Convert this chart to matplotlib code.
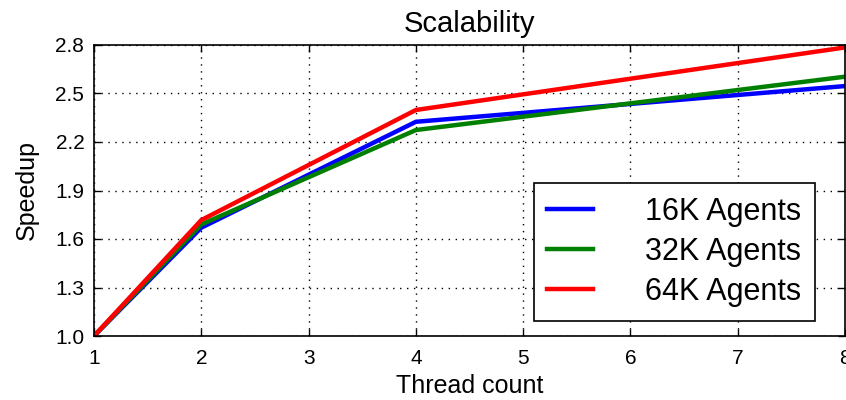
import matplotlib.pyplot as plt

# thread counts and measured speedup per agent population
threads = [1, 2, 4, 8]
speedup_16k = [1.0, 1.67, 2.325, 2.546]
speedup_32k = [1.0, 1.69, 2.274, 2.604]
speedup_64k = [1.0, 1.717, 2.398, 2.785]
labels = ['16K Agents', '32K Agents', '64K Agents']
yticks = [1.0, 1.3, 1.6, 1.9, 2.2, 2.5, 2.8]

plt.rcParams['font.family'] = ['Liberation Sans', 'DejaVu Sans']

fig = plt.figure(figsize=(8.46, 4.0), dpi=100)
ax = fig.add_axes([94 / 846, 1 - 336 / 400, 751 / 846, 291 / 400])

ax.plot(threads, speedup_16k, color='b', lw=3.2, label=labels[0])
ax.plot(threads, speedup_32k, color=(0, 0.5, 0), lw=3.2, label=labels[1])
ax.plot(threads, speedup_64k, color='r', lw=3.2, label=labels[2])

ax.set_xlim(1, 8)
ax.set_ylim(1.0, 2.8)
ax.set_yticks(yticks)
ax.set_yticklabels([f'{v:.1f}' for v in yticks])
ax.grid(True, color='black', linestyle=(0, (1, 4)), lw=1)
ax.tick_params(direction='in', length=5, width=1, top=True, right=True,
               labelsize=15)
ax.tick_params(axis='x', pad=9)
ax.tick_params(axis='y', pad=7)
for s in ax.spines.values():
    s.set_linewidth(1.2)

ax.set_title('Scalability', fontsize=21, pad=9)
ax.set_xlabel('Thread count', fontsize=18, labelpad=5)
ax.set_ylabel('Speedup', fontsize=18, labelpad=12)

leg = ax.legend(loc='lower right', bbox_to_anchor=(0.96, 0.052), borderaxespad=0,
                fontsize=22, fancybox=False, edgecolor='black', framealpha=1,
                handlelength=1.5, handletextpad=1.7, labelspacing=0.33,
                borderpad=0.45)
leg.get_frame().set_linewidth(1.2)

fig.savefig('out.png', dpi=100)
